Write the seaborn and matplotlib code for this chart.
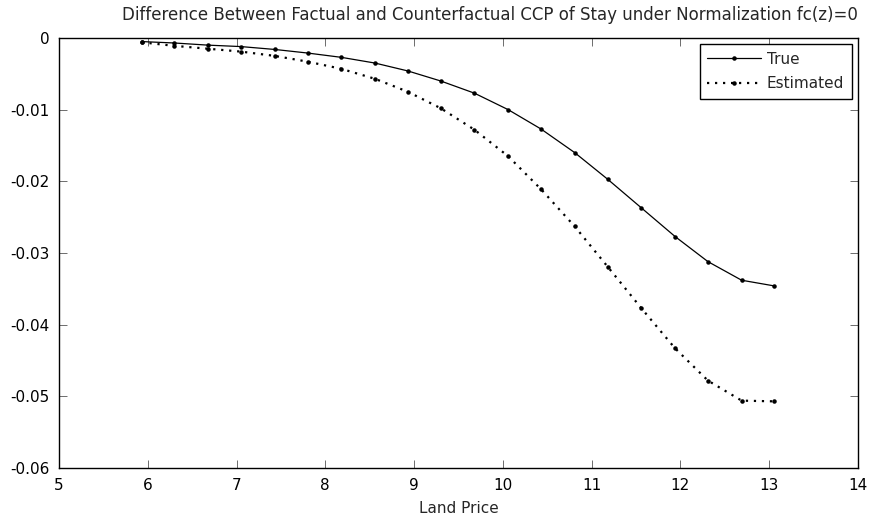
import numpy as np
import pandas as pd
import matplotlib
matplotlib.use('Agg')
import matplotlib.pyplot as plt
from matplotlib.ticker import FormatStrFormatter
import seaborn as sns

# Values
land_price = [5.93, 6.30, 6.68, 7.05, 7.43, 7.80, 8.18, 8.56, 8.93, 9.30,
              9.68, 10.06, 10.43, 10.81, 11.18, 11.56, 11.94, 12.31, 12.69, 13.06]
true_diff = [-0.0005, -0.0007, -0.0010, -0.0012, -0.0016, -0.0021, -0.0027, -0.0035, -0.0046, -0.0060,
             -0.0077, -0.0100, -0.0127, -0.0160, -0.0197, -0.0237, -0.0277, -0.0312, -0.0338, -0.0346]
est_diff = [-0.0006, -0.0011, -0.0015, -0.0019, -0.0025, -0.0033, -0.0043, -0.0057, -0.0075, -0.0098,
            -0.0128, -0.0165, -0.0211, -0.0263, -0.0319, -0.0377, -0.0433, -0.0478, -0.0506, -0.0507]
x_ticks = [5, 6, 7, 8, 9, 10, 11, 12, 13, 14]
y_ticks = [0, -0.01, -0.02, -0.03, -0.04, -0.05, -0.06]

df = pd.DataFrame({'price': land_price, 'true': true_diff, 'est': est_diff})

sns.set_style('ticks')
plt.rcParams['font.family'] = ['DejaVu Sans']
plt.rcParams['axes.unicode_minus'] = False

fig = plt.figure(figsize=(8.71, 5.16), dpi=100)
ax = fig.add_axes([0.0677, 0.093, 0.9173, 0.8334])

sns.lineplot(data=df, x='price', y='true', ax=ax, color='black', linewidth=0.9,
             marker='.', markersize=6.5, markeredgewidth=0, label='True')
sns.lineplot(data=df, x='price', y='est', ax=ax, color='black', linewidth=1.6,
             linestyle=(0, (1, 2.6)), marker='.', markersize=6.5, markeredgewidth=0,
             label='Estimated')

ax.set_xlim(5, 14)
ax.set_ylim(-0.06, 0)
ax.set_xticks(x_ticks)
ax.set_yticks(y_ticks)
ax.yaxis.set_major_formatter(FormatStrFormatter('%g'))
ax.tick_params(direction='in', length=6, width=0.6, color='#555555', labelsize=11,
               top=True, right=True, pad=7, labelcolor='black')
for s in ax.spines.values():
    s.set_visible(True)
    s.set_linewidth(1.0)
    s.set_color('black')

ax.set_xlabel('Land Price', fontsize=11, labelpad=6)
ax.set_ylabel('')
ax.set_title('Difference Between Factual and Counterfactual CCP of Stay under Normalization fc(z)=0',
             fontsize=12, loc='right', pad=13)

leg = ax.legend(loc='upper right', fontsize=11, frameon=True, fancybox=False,
                handlelength=3.5, borderaxespad=0.4, handletextpad=0.4,
                borderpad=0.5, labelspacing=0.6)
leg.get_frame().set_edgecolor('black')
leg.get_frame().set_linewidth(1.0)
leg.get_frame().set_alpha(1)

fig.savefig('out.png', dpi=100)
